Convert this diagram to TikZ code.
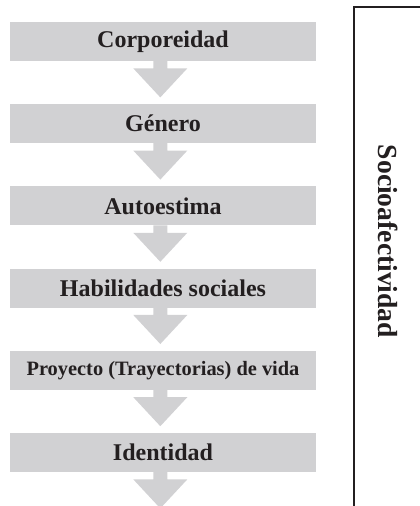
\documentclass[tikz,border=0pt]{standalone}
\usepackage{fontspec}
\setmainfont{Liberation Serif}
\usetikzlibrary{positioning}
\definecolor{boxgray}{RGB}{209,209,211}
\definecolor{inkblack}{RGB}{35,31,32}

\begin{document}
\begin{tikzpicture}[x=0.5pt, y=-0.5pt, stage/.style={fill=boxgray, minimum width=153pt, minimum height=19.5pt, inner sep=0pt, text=inkblack, font=\fontsize{12}{14}\selectfont\bfseries}, flow/.style={fill=boxgray}, node distance=21.2pt]
	\useasboundingbox (0,0) rectangle (419,506);
	% stages of the sequence
	\node[stage] (cor) at (163,41.5) {Corporeidad};
	\node[stage, below=of cor] (gen) {Género};
	\node[stage, below=of gen] (aut) {Autoestima};
	\node[stage, below=of aut] (hab) {Habilidades sociales};
	\node[stage, below=of hab, font=\fontsize{10.2}{12}\selectfont\bfseries] (pro) {Proyecto (Trayectorias) de vida};
	\node[stage, below=of pro] (ide) {Identidad};
	% arrows under each stage
	\foreach \b in {cor,gen,aut,hab,pro,ide}
	  \fill[flow, shift={(\b.south)}] (-9.7,-0.5) -- (-9.7,7) -- (-29.7,7) -- (-2.7,36) -- (24.3,7) -- (4.3,7) -- (4.3,-0.5) -- cycle;
	% side frame
	\draw[inkblack, line width=1pt] (353.5,508) -- (353.5,7) -- (421,7);
	\node[rotate=-90, inner sep=0pt, text=inkblack, font=\fontsize{13.8}{16}\selectfont\bfseries] (soc) at (388.5,241.5) {Socioafectividad};
\end{tikzpicture}
\end{document}
